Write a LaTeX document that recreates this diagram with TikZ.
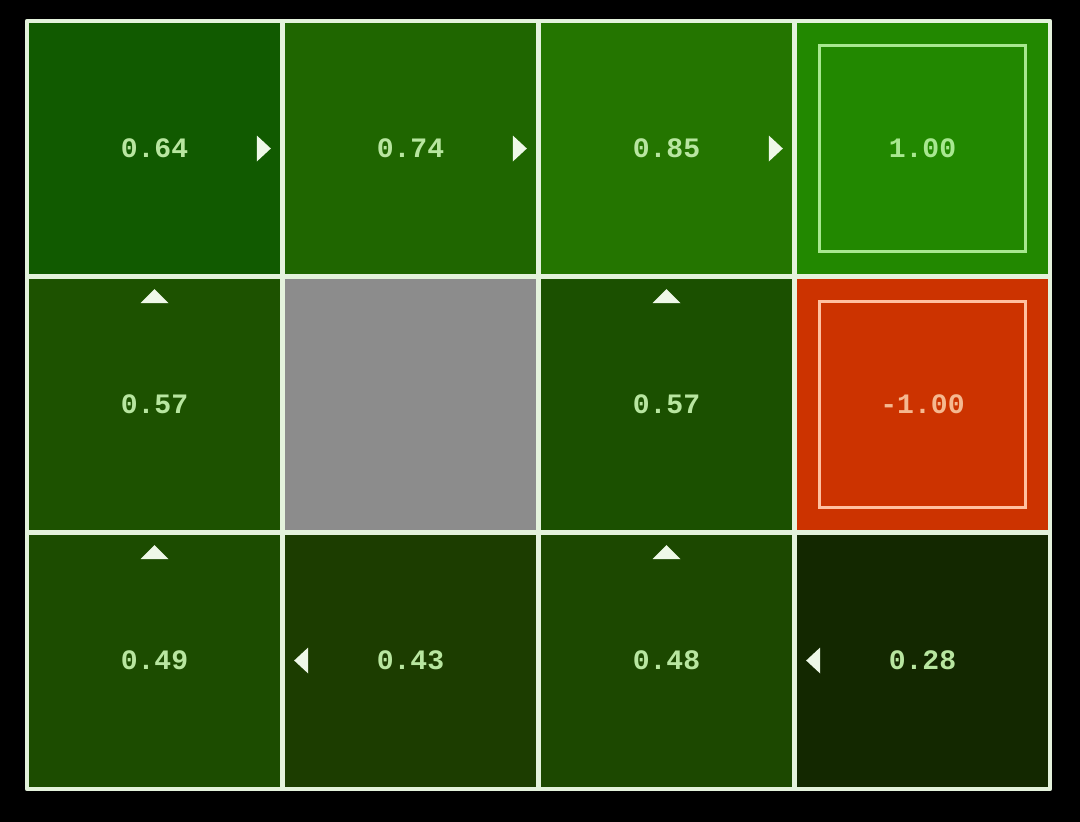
\documentclass[tikz,border=0pt]{standalone}
\usepackage{fontspec}
\setmonofont{Liberation Mono}
\usetikzlibrary{calc}
\definecolor{bgblack}{HTML}{000000}
\definecolor{gridline}{HTML}{E4F2DC}
\definecolor{vA}{HTML}{115A00}
\definecolor{vB}{HTML}{1F6600}
\definecolor{vC}{HTML}{247500}
\definecolor{vD}{HTML}{228800}
\definecolor{vE}{HTML}{1D5200}
\definecolor{vF}{HTML}{8C8C8C}
\definecolor{vG}{HTML}{1B5000}
\definecolor{vH}{HTML}{CC3300}
\definecolor{vI}{HTML}{1C4C00}
\definecolor{vJ}{HTML}{1C3D00}
\definecolor{vK}{HTML}{1C4800}
\definecolor{vL}{HTML}{132800}
\definecolor{txtgreen}{HTML}{B8E6A0}
\definecolor{txtred}{HTML}{F5B890}
\definecolor{innergreen}{HTML}{A8E890}
\definecolor{innerred}{HTML}{FFC0A0}
\definecolor{arrowfill}{HTML}{EEF8E8}
\tikzset{
  cellbox/.style={draw=none, minimum width=5.12cm, minimum height=5.12cm, inner sep=0pt,
    font=\ttfamily\bfseries\fontsize{16}{16}\selectfont, text=txtgreen},
  termbox/.style={draw=#1, line width=0.06cm, minimum width=4.14cm, minimum height=4.12cm, inner sep=0pt},
  gridpen/.style={draw=gridline, line width=0.09cm},
  policy/.style={fill=arrowfill, draw=none}
}
\begin{document}
\begin{tikzpicture}[x=0.02cm, y=-0.02cm]
\fill[bgblack] (0,0) rectangle (1080,822);
\useasboundingbox (0,0) rectangle (1080,822);
% cells
\node[cellbox, fill=vA] (c00) at (154.5,148.5) {0.64};
\node[cellbox, fill=vB] (c01) at (410.5,148.5) {0.74};
\node[cellbox, fill=vC] (c02) at (666.5,148.5) {0.85};
\node[cellbox, fill=vD] (c03) at (922.5,148.5) {};
\node[cellbox, fill=vE] (c10) at (154.5,404.5) {0.57};
\node[cellbox, fill=vF] (c11) at (410.5,404.5) {};
\node[cellbox, fill=vG] (c12) at (666.5,404.5) {0.57};
\node[cellbox, fill=vH] (c13) at (922.5,404.5) {};
\node[cellbox, fill=vI] (c20) at (154.5,660.5) {0.49};
\node[cellbox, fill=vJ] (c21) at (410.5,660.5) {0.43};
\node[cellbox, fill=vK] (c22) at (666.5,660.5) {0.48};
\node[cellbox, fill=vL] (c23) at (922.5,660.5) {0.28};
% terminal boxes
\node[termbox=innergreen, font=\ttfamily\bfseries\fontsize{16}{16}\selectfont, text=innergreen] (t03) at (c03) {1.00};
\node[termbox=innerred, font=\ttfamily\bfseries\fontsize{16}{16}\selectfont, text=txtred] (t13) at (c13) {-1.00};
% grid
\draw[gridpen, line join=round] (27,21) rectangle (1050,789);
\draw[gridpen] (282.5,21) -- (282.5,789);
\draw[gridpen] (538.5,21) -- (538.5,789);
\draw[gridpen] (794.5,21) -- (794.5,789);
\draw[gridpen] (27,276.5) -- (1050,276.5);
\draw[gridpen] (27,532.5) -- (1050,532.5);
% policy arrows: right
\foreach \c in {c00,c01,c02}{
  \fill[policy] ($(\c.east)+(-12,0)$) -- ($(\c.east)+(-26,-13)$) -- ($(\c.east)+(-26,13)$) -- cycle;
}
% up
\foreach \c in {c10,c12,c20,c22}{
  \fill[policy] ($(\c.north)+(0,13)$) -- ($(\c.north)+(-14,27)$) -- ($(\c.north)+(14,27)$) -- cycle;
}
% left
\foreach \c in {c21,c23}{
  \fill[policy] ($(\c.west)+(12,0)$) -- ($(\c.west)+(26,-13)$) -- ($(\c.west)+(26,13)$) -- cycle;
}
\end{tikzpicture}
\end{document}
